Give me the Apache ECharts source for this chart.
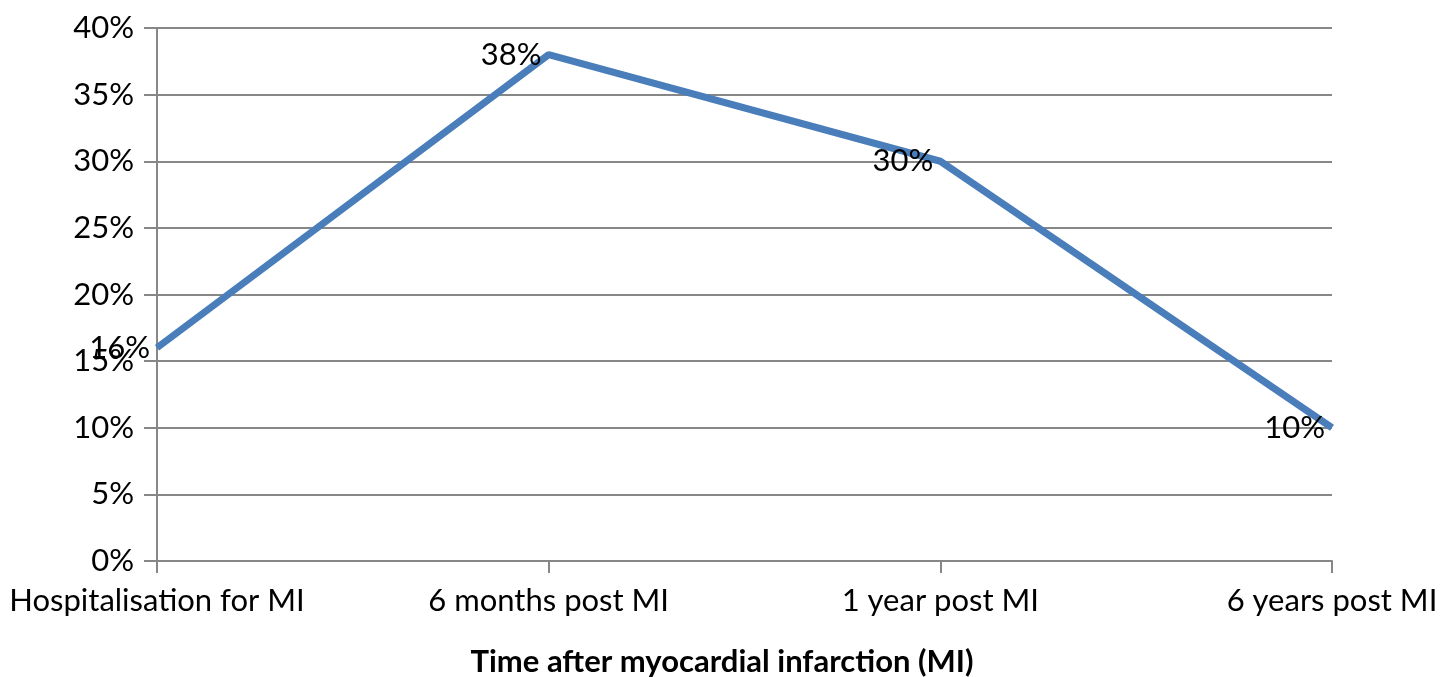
<!DOCTYPE html>
<html><head><meta charset="utf-8">
<script src="https://cdn.jsdelivr.net/npm/echarts@6/dist/echarts.min.js"></script>
<style>html,body{margin:0;padding:0;background:#fff}#c{width:1452px;height:677px}</style>
</head><body><div id="c"></div>
<script>
const categories = ["Hospitalisation for MI", "6 months post MI", "1 year post MI", "6 years post MI"];
const values = [16, 38, 30, 10];
const axisTitle = "Time after myocardial infarction (MI)";
const FONT = "Lato, 'Open Sans', sans-serif";
const chart = echarts.init(document.getElementById('c'));
chart.setOption({
  animation: false,
  backgroundColor: '#fff',
  title: {
    text: axisTitle, left: 722, top: 645, textAlign: 'center', padding: 0,
    textStyle: {fontFamily: FONT, fontSize: 31, fontWeight: 'bold', color: '#000', lineHeight: 34}
  },
  grid: {left: 157, right: 120, top: 28, bottom: 116, containLabel: false},
  xAxis: {
    type: 'category', data: categories, boundaryGap: false,
    axisLine: {lineStyle: {color: '#878787', width: 2}},
    axisTick: {show: true, length: 12, alignWithLabel: true, lineStyle: {color: '#878787', width: 2}},
    axisLabel: {fontFamily: FONT, fontSize: 31, color: '#000', margin: 24, interval: 0},
    splitLine: {show: false}
  },
  yAxis: {
    type: 'value', min: 0, max: 40, interval: 5,
    axisLine: {show: true, lineStyle: {color: '#878787', width: 2}},
    axisTick: {show: true, length: 13, lineStyle: {color: '#878787', width: 2}},
    axisLabel: {fontFamily: FONT, fontSize: 31, color: '#000', margin: 23, formatter: '{value}%'},
    splitLine: {show: true, lineStyle: {color: '#878787', width: 2}}
  },
  series: [{
    type: 'line', data: values, showSymbol: true, symbol: 'circle', symbolSize: 0,
    itemStyle: {color: '#4a7ebb'},
    lineStyle: {color: '#4a7ebb', width: 7},
    label: {show: true, position: 'left', distance: 7, fontFamily: FONT, fontSize: 31, color: '#000', formatter: '{c}%'},
    labelLayout: {hideOverlap: false},
    z: 3
  }]
});
</script></body></html>
